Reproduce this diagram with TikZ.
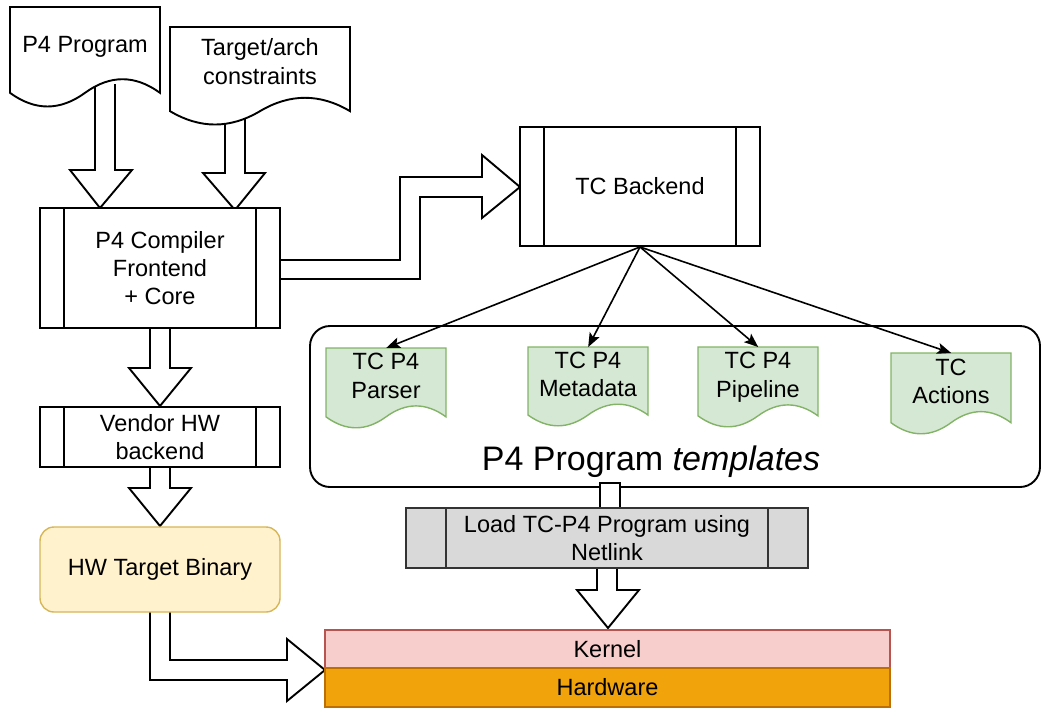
\documentclass[tikz,border=0pt]{standalone}
\usepackage{fontspec}
\setmainfont{Liberation Sans}
\usetikzlibrary{calc,arrows.meta}
\definecolor{greenfill}{HTML}{D5E8D4}
\definecolor{greenline}{HTML}{82B366}
\definecolor{yelfill}{HTML}{FFF2CC}
\definecolor{yelline}{HTML}{D6B656}
\definecolor{redfill}{HTML}{F8CECC}
\definecolor{redline}{HTML}{B85450}
\definecolor{orfill}{HTML}{F0A30A}
\definecolor{orline}{HTML}{BD7000}
\definecolor{grayfill}{HTML}{D9D9D9}
% #1 name, #2 x, #3 y (top), #4 w, #5 h, #6 style, #7 text
\newcommand\docnode[7]{%
  \node[inner sep=0pt, minimum width=#4pt, minimum height=#5pt, anchor=north west] (#1) at (#2,#3) {};
  \path[#6] (#2,#3) -- ({#2+#4},#3) -- ({#2+#4},{#3+0.85*#5})
    .. controls ({#2+0.8333*#4},{#3+0.67*#5}) and ({#2+0.6667*#4},{#3+0.67*#5}) .. ({#2+0.5*#4},{#3+0.85*#5})
    .. controls ({#2+0.3333*#4},{#3+1.03*#5}) and ({#2+0.1667*#4},{#3+1.03*#5}) .. (#2,{#3+0.85*#5}) -- cycle;
  \node[txt, execute at begin node=\strut, execute at end node=\strut] (#1-t) at ({#2+#4/2},{#3+0.36*#5+3}) {#7};
}
\begin{document}
\begin{tikzpicture}[x=1pt, y=-1pt,
  font=\fontsize{23.5}{28.3}\selectfont,
  txt/.style={align=center, inner sep=0pt},
  blockarrow/.style={draw=black, fill=white, line width=1.9pt, line join=miter},
  procbox/.style={draw=black, fill=white, line width=1.9pt, inner sep=0pt, align=center,
    path picture={\draw[line width=1.9pt]
      ([xshift=#1]path picture bounding box.north west) -- ([xshift=#1]path picture bounding box.south west)
      ([xshift=-#1]path picture bounding box.north east) -- ([xshift=-#1]path picture bounding box.south east);}},
  procbox/.default=24pt,
  whitedoc/.style={draw=black, fill=white, line width=1.9pt},
  greendoc/.style={draw=greenline, fill=greenfill, line width=1.4pt},
  thinarrow/.style={line width=1.6pt, -{Stealth[length=14pt, width=11pt, inset=3pt]}}
]
\useasboundingbox (0,0) rectangle (1043,710);

% block arrows (behind the boxes)
\draw[blockarrow] (95,84) -- (95,170) -- (70,170) -- (100,208) -- (132,170) -- (115,170) -- (115,84);
\draw[blockarrow] (225,100) -- (225,173) -- (203,173) -- (235,210) -- (265,173) -- (245,173) -- (245,100);
\draw[blockarrow] (150,328) -- (150,368) -- (129,368) -- (160,406) -- (191,368) -- (170,368) -- (170,328);
\draw[blockarrow] (150,467) -- (150,488) -- (129,488) -- (160,526) -- (191,488) -- (170,488) -- (170,467);
\draw[blockarrow] (597,568) -- (597,590) -- (577,590) -- (608,628) -- (639,590) -- (617,590) -- (617,568);
\draw[blockarrow] (280,260) -- (400,260) -- (400,177) -- (482,177) -- (482,155) -- (520,187)
  -- (482,218) -- (482,197) -- (420,197) -- (420,279) -- (280,279);
\draw[blockarrow] (150,612) -- (150,680) -- (287,680) -- (287,701) -- (325,670) -- (287,639)
  -- (287,660) -- (170,660) -- (170,612);

% input documents
\docnode{p4prog}{10}{7}{150}{101}{whitedoc}{P4 Program}
\docnode{target}{170}{27}{180}{99}{whitedoc}{Target/arch\\constraints}

% compiler chain
\node[procbox, minimum width=240pt, minimum height=120pt] (comp) at (160,268) {P4 Compiler\\Frontend\\+ Core};
\node[procbox, minimum width=240pt, minimum height=60pt] (vendor) at (160,437) {Vendor HW\\backend};
\node[draw=yelline, fill=yelfill, line width=1.4pt, rounded corners=14pt, minimum width=240pt,
  minimum height=85pt, txt] (hwbin) at (160,569.5) {HW Target Binary};

% TC backend
\node[procbox, minimum width=240pt, minimum height=119pt] (tcb) at (640,186.5) {TC Backend};

% templates container
\node[draw=black, line width=1.9pt, rounded corners=20pt, minimum width=730pt, minimum height=161pt,
  inner sep=0pt] (tmpl) at (675,406.5) {};
\node[txt, font=\fontsize{34}{40}\selectfont] (tmpllabel) at (651,462) {P4 Program \textit{templates}};

\docnode{parser}{326}{348}{120}{81}{greendoc}{TC P4\\Parser}
\docnode{meta}{528}{347}{120}{80}{greendoc}{TC P4\\Metadata}
\docnode{pipe}{698}{347}{120}{81}{greendoc}{TC P4\\Pipeline}
\docnode{actions}{891}{353}{120}{82}{greendoc}{TC\\Actions}

\draw[thinarrow] (tcb.south) -- (parser.north);
\draw[thinarrow] (tcb.south) -- (meta.north);
\draw[thinarrow] (tcb.south) -- (pipe.north);
\draw[thinarrow] (tcb.south) -- (actions.north);

% stub and loader
\node[draw=black, fill=white, line width=1.9pt, minimum width=20pt, minimum height=25pt, inner sep=0pt] (stub) at (610,495.5) {};
\node[procbox=40pt, draw=black!80, fill=grayfill, minimum width=402pt, minimum height=60pt] (load) at (607,538) {Load TC-P4 Program using\\Netlink};

% kernel / hardware
\node[draw=redline, fill=redfill, line width=1.4pt, minimum width=565pt, minimum height=38pt, txt] (kernel) at (607.5,649) {Kernel};
\node[draw=orline, fill=orfill, line width=1.4pt, minimum width=565pt, minimum height=39pt, txt] (hw) at (607.5,687.5) {Hardware};
\end{tikzpicture}
\end{document}
